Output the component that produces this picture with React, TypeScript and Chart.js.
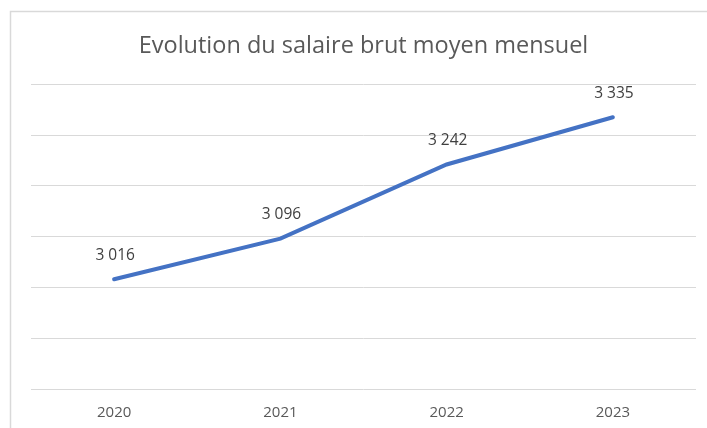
import React, { useEffect, useRef } from "react";
import { Chart, registerables } from "chart.js";

Chart.register(...registerables);

const categories = ["2020", "2021", "2022", "2023"];
const salaries = [3016, 3096, 3242, 3335];
const labelsText = ["3 016", "3 096", "3 242", "3 335"];
const FONT = "'Open Sans', 'Liberation Sans', sans-serif";

const framePlugin = {
  id: "frame",
  beforeDraw(chart: any) {
    const ctx = chart.ctx;
    ctx.save();
    ctx.fillStyle = "#ffffff";
    ctx.fillRect(0, 0, chart.width, chart.height);
    ctx.strokeStyle = "#d9d9d9";
    ctx.lineWidth = 1.5;
    ctx.strokeRect(10.5, 11.5, chart.width + 50, chart.height + 50);
    ctx.restore();
  },
};

const dataLabelPlugin = {
  id: "dataLabels",
  afterDatasetsDraw(chart: any) {
    const ctx = chart.ctx;
    const meta = chart.getDatasetMeta(0);
    ctx.save();
    ctx.font = `15.5px ${FONT}`;
    ctx.fillStyle = "#404040";
    ctx.textAlign = "center";
    ctx.textBaseline = "middle";
    meta.data.forEach((pt: any, i: number) => {
      ctx.fillText(labelsText[i], pt.x + 1, pt.y - 24);
    });
    ctx.restore();
  },
};

export default function App() {
  const ref = useRef<HTMLCanvasElement>(null);
  useEffect(() => {
    document.body.style.margin = "0";
    const chart = new Chart(ref.current!, {
      type: "line",
      data: {
        labels: categories,
        datasets: [
          {
            data: salaries,
            borderColor: "#4472C4",
            borderWidth: 4,
            pointRadius: 0,
            pointHoverRadius: 0,
            fill: false,
            tension: 0,
            borderCapStyle: "round",
          },
        ],
      },
      options: {
        responsive: false,
        animation: false,
        layout: { padding: { top: 11, left: 31, right: 11, bottom: -9 } },
        plugins: {
          legend: { display: false },
          tooltip: { enabled: false },
          title: {
            display: true,
            text: "Evolution du salaire brut moyen mensuel",
            color: "#595959",
            font: { family: FONT, size: 23.5, weight: "normal" },
            padding: { top: 21, bottom: 24 },
          },
        },
        scales: {
          x: {
            offset: true,
            grid: { display: false, drawTicks: false },
            border: { display: false },
            ticks: {
              color: "#595959",
              font: { family: FONT, size: 15 },
              padding: 15,
              maxRotation: 0,
            },
          },
          y: {
            min: 2800,
            max: 3400,
            ticks: { display: false, stepSize: 100 },
            grid: { color: "#d9d9d9", lineWidth: 1, drawTicks: false },
            border: { display: false },
          },
        },
      },
      plugins: [framePlugin, dataLabelPlugin],
    });
    return () => chart.destroy();
  }, []);
  return <canvas ref={ref} width={707} height={428} style={{ display: "block" }} />;
}
